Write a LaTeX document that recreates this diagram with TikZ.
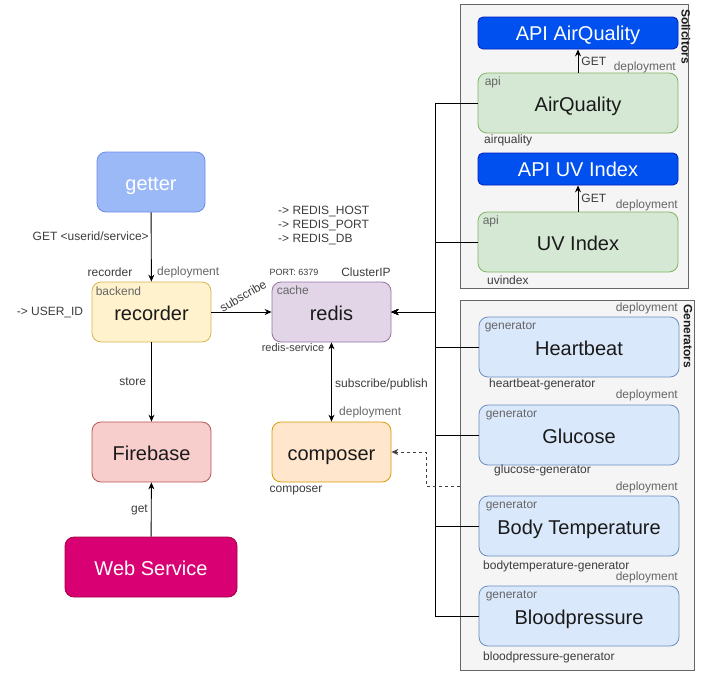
\documentclass[tikz,border=0pt]{standalone}
\usepackage{fontspec}
\setmainfont{Liberation Sans}
\usetikzlibrary{arrows.meta}
\definecolor{getterfill}{RGB}{155,185,247}
\definecolor{getterdraw}{RGB}{108,142,230}
\definecolor{recfill}{HTML}{FFF2CC}
\definecolor{recdraw}{HTML}{D6B656}
\definecolor{redfill}{HTML}{E1D5E7}
\definecolor{reddraw}{HTML}{9673A6}
\definecolor{fbfill}{HTML}{F8CECC}
\definecolor{fbdraw}{HTML}{B85450}
\definecolor{compfill}{HTML}{FFE6CC}
\definecolor{compdraw}{HTML}{D79B00}
\definecolor{wsfill}{HTML}{D80073}
\definecolor{wsdraw}{HTML}{A50040}
\definecolor{apifill}{HTML}{0050EF}
\definecolor{apidraw}{HTML}{001DBC}
\definecolor{gfill}{HTML}{D5E8D4}
\definecolor{gdraw}{HTML}{82B366}
\definecolor{bfill}{HTML}{DAE8FC}
\definecolor{bdraw}{HTML}{6C8EBF}
\definecolor{contfill}{HTML}{F5F5F5}
\definecolor{contdraw}{HTML}{666666}
\definecolor{tagc}{HTML}{666666}
\definecolor{txt}{HTML}{1A1A1A}
\tikzset{
  box/.style={draw, rounded corners=9pt, line width=0.8pt, inner sep=0pt,
    minimum width=119pt, minimum height=60pt, text=txt,
    text height=16pt, text depth=0pt,
    font=\fontsize{20}{24}\selectfont},
  widebox/.style={box, minimum width=200pt},
  apibox/.style={draw=apidraw, fill=apifill, rounded corners=5pt, line width=0.8pt,
    inner sep=0pt, minimum width=200pt, minimum height=32pt, text=white,
    text height=15.5pt, text depth=0pt,
    font=\fontsize{20}{24}\selectfont},
  cont/.style={draw=contdraw, fill=contfill, line width=0.8pt, inner sep=0pt},
  tag/.style={text=tagc, inner sep=0pt, font=\fontsize{12}{14}\selectfont},
  lbl/.style={text=txt!85, inner sep=0pt, font=\fontsize{12}{14}\selectfont},
  small/.style={text=txt!85, inner sep=0pt, font=\fontsize{12}{14}\selectfont},
  conn/.style={line width=0.9pt, -{Stealth[length=7pt,width=6pt]}},
  ctitle/.style={inner sep=0pt, rotate=-90, anchor=west, text=txt,
    font=\fontsize{12}{14}\selectfont\bfseries},
}
\begin{document}
\begin{tikzpicture}[x=1pt,y=-1pt]
\useasboundingbox (0,0) rectangle (703,675);

% containers
\node[cont, minimum width=228pt, minimum height=284pt] (sol) at (574,146) {};
\node[cont, minimum width=234pt, minimum height=370pt] (gens) at (577,485) {};
\node[ctitle] (soltitle) at (686,9) {Solicitors};
\node[ctitle] (genstitle) at (688,304) {Generators};

% left nodes
\node[box, draw=getterdraw, fill=getterfill, text=white, minimum width=108pt] (getter) at (151,182) {getter};
\node[box, draw=recdraw, fill=recfill] (recorder) at (151.5,312) {recorder};
\node[box, draw=reddraw, fill=redfill] (redis) at (331.5,312) {redis};
\node[box, draw=fbdraw, fill=fbfill] (firebase) at (151.5,452) {Firebase};
\node[box, draw=compdraw, fill=compfill] (composer) at (331.5,452) {composer};
\node[box, draw=wsdraw, fill=wsfill, text=white, minimum width=172pt] (ws) at (151,567) {Web Service};

% solicitors
\node[apibox] (apiaq) at (578,33) {API AirQuality};
\node[widebox, draw=gdraw, fill=gfill] (aq) at (578,103) {AirQuality};
\node[apibox] (apiuv) at (578,169) {API UV Index};
\node[widebox, draw=gdraw, fill=gfill] (uv) at (578,242) {UV Index};

% generators
\node[widebox, draw=bdraw, fill=bfill] (hb) at (579,347) {Heartbeat};
\node[widebox, draw=bdraw, fill=bfill] (gl) at (579,435) {Glucose};
\node[widebox, draw=bdraw, fill=bfill] (bt) at (579,526) {Body Temperature};
\node[widebox, draw=bdraw, fill=bfill] (bp) at (579,616) {Bloodpressure};

% tags inside boxes
\node[tag, anchor=north west] (tagrec) at ([xshift=4pt,yshift=-5pt]recorder.north west) {backend};
\node[tag, anchor=north west] (tagred) at ([xshift=5pt,yshift=-4pt]redis.north west) {cache};
\node[tag, anchor=north west] (tagaq) at ([xshift=7pt,yshift=-4pt]aq.north west) {api};
\node[tag, anchor=north west] (taguv) at ([xshift=5pt,yshift=-4pt]uv.north west) {api};
\node[tag, anchor=north west] (taghb) at ([xshift=6pt,yshift=-5pt]hb.north west) {generator};
\node[tag, anchor=north west] (taggl) at ([xshift=7pt,yshift=-5pt]gl.north west) {generator};
\node[tag, anchor=north west] (tagbt) at ([xshift=7pt,yshift=-5pt]bt.north west) {generator};
\node[tag, anchor=north west] (tagbp) at ([xshift=7pt,yshift=-5pt]bp.north west) {generator};

% outside labels
\node[tag, anchor=east] (depaq) at (676,67) {deployment};
\node[tag, anchor=east] (depuv) at (678,205) {deployment};
\node[tag, anchor=east] (dephb) at (678,308) {deployment};
\node[tag, anchor=east] (depgl) at (678,395) {deployment};
\node[tag, anchor=east] (depbt) at (678,487) {deployment};
\node[tag, anchor=east] (depbp) at (678,577) {deployment};
\node[tag, anchor=west] (deprec) at (157,272) {deployment};
\node[tag, anchor=west] (depcomp) at (339,412) {deployment};

\node[small, anchor=west] (naq) at (484,140) {airquality};
\node[small, anchor=west] (nuv) at (487,280) {uvindex};
\node[small, anchor=west] (nhb) at (489,384) {heartbeat-generator};
\node[small, anchor=west] (ngl) at (494,470) {glucose-generator};
\node[small, anchor=west] (nbt) at (483,566) {bodytemperature-generator};
\node[small, anchor=west] (nbp) at (483,657) {bloodpressure-generator};
\node[small] (nrec) at (110,272) {recorder};
\node[small] (ncomp) at (296,491) {composer};
\node[small, font=\fontsize{11}{13}\selectfont] (nredis) at (293,348) {redis-service};
\node[inner sep=0pt, text=txt!85, font=\fontsize{9}{11}\selectfont] (port) at (294,272) {PORT: 6379};
\node[lbl] (cip) at (366,272) {ClusterIP};
\node[lbl] (userid) at (50,312) {-> USER\_ID};
\node[lbl, anchor=north west, align=left, font=\fontsize{12}{14}\selectfont] (env) at (278,206)
  {-> REDIS\_HOST\\-> REDIS\_PORT\\-> REDIS\_DB};
\node[small, rotate=30] (lsub) at (243,296) {subscribe};
\node[small, anchor=west] (lsp) at (335,384) {subscribe/publish};

% connectors
\draw[conn] (getter) -- node[small, pos=0.35, left=2pt] (lget) {GET <userid/service>} (recorder);
\draw[conn] (recorder) -- (redis);
\draw[conn] (recorder) -- node[small, left=5pt] (lstore) {store} (firebase);
\draw[conn] (ws) -- node[small, left=3pt] (lgetfb) {get} (firebase);
\draw[line width=0.9pt, {Stealth[length=7pt,width=6pt]}-{Stealth[length=7pt,width=6pt]}] (redis) -- (composer);
\draw[conn] (aq) -- node[lbl, anchor=west, pos=0.5, xshift=3pt] (lgetaq) {GET} (apiaq);
\draw[conn] (uv) -- node[lbl, anchor=west, pos=0.5, xshift=3pt] (lgetuv) {GET} (apiuv);

\coordinate (bus) at (435,312);
\draw[conn] (aq.west) -| (bus) -- (redis.east);
\draw[conn] (uv.west) -| (bus) -- (redis.east);
\draw[conn] (hb.west) -| (bus) -- (redis.east);
\draw[conn] (gl.west) -| (bus) -- (redis.east);
\draw[conn] (bt.west) -| (bus) -- (redis.east);
\draw[conn] (bp.west) -| (bus) -- (redis.east);

\coordinate (dstart) at (gens.west |- 0,486);
\coordinate (dturn) at (426,486);
\draw[conn, dashed, draw=black!75] (dstart) -- (dturn) |- (composer.east);
\end{tikzpicture}
\end{document}
